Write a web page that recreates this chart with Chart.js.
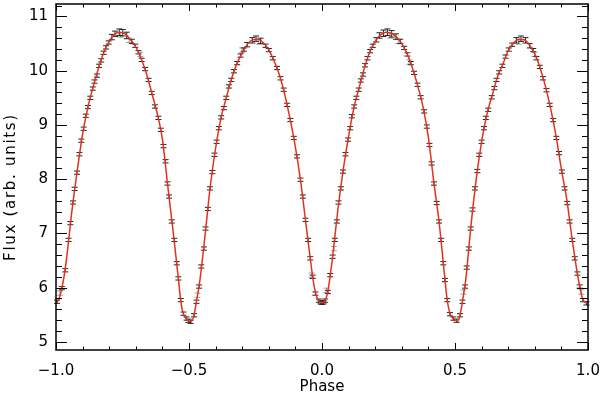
<!DOCTYPE html>
<html>
<head>
  <meta charset="UTF-8">
  <title>Light curve</title>
  <script src="https://cdn.jsdelivr.net/npm/chart.js"></script>
  <style>
    body { margin: 0; background: #fff; }
  </style>
</head>
<body>
  <canvas id="curve" width="600" height="395"></canvas>
  <script>
    // axis ticks
    const xTicks = [-1, -0.5, 0, 0.5, 1];
    const xTickLabels = ['\u22121.0', '\u22120.5', '0.0', '0.5', '1.0'];
    const yTicks = [5, 6, 7, 8, 9, 10, 11];
    const yTickLabels = ['5', '6', '7', '8', '9', '10', '11'];

    // measured points (phase, flux, error)
    const dataPhase = [
      -0.996, -0.978, -0.965, -0.953, -0.946, -0.936, -0.930, -0.921, -0.912, -0.905, -0.896, -0.888,
      -0.880, -0.871, -0.862, -0.855, -0.846, -0.838, -0.830, -0.821, -0.812, -0.802, -0.790, -0.778,
      -0.762, -0.749, -0.734, -0.715, -0.702, -0.690, -0.678, -0.665, -0.652, -0.640, -0.628, -0.615,
      -0.606, -0.596, -0.588, -0.581, -0.575, -0.565, -0.555, -0.546, -0.540, -0.531, -0.521, -0.509,
      -0.502, -0.494, -0.481, -0.472, -0.462, -0.454, -0.444, -0.438, -0.429, -0.421, -0.412, -0.404,
      -0.396, -0.388, -0.379, -0.369, -0.360, -0.350, -0.341, -0.331, -0.319, -0.306, -0.294, -0.281,
      -0.262, -0.248, -0.231, -0.212, -0.200, -0.185, -0.169, -0.156, -0.144, -0.131, -0.119, -0.106,
      -0.094, -0.081, -0.072, -0.062, -0.052, -0.044, -0.035, -0.025, -0.012, -0.006, 0.000, 0.006,
      0.012, 0.022, 0.031, 0.040, 0.048, 0.056, 0.062, 0.071, 0.079, 0.088, 0.098, 0.106,
      0.112, 0.121, 0.129, 0.138, 0.146, 0.154, 0.162, 0.171, 0.181, 0.191, 0.204, 0.216,
      0.231, 0.246, 0.262, 0.278, 0.294, 0.309, 0.321, 0.334, 0.346, 0.359, 0.371, 0.384,
      0.394, 0.404, 0.412, 0.421, 0.431, 0.440, 0.448, 0.456, 0.462, 0.471, 0.481, 0.494,
      0.506, 0.519, 0.528, 0.538, 0.544, 0.552, 0.559, 0.566, 0.575, 0.584, 0.591, 0.600,
      0.609, 0.616, 0.625, 0.638, 0.648, 0.656, 0.666, 0.678, 0.690, 0.702, 0.715, 0.731,
      0.748, 0.765, 0.781, 0.794, 0.806, 0.819, 0.831, 0.844, 0.856, 0.869, 0.881, 0.891,
      0.902, 0.912, 0.922, 0.931, 0.941, 0.950, 0.960, 0.969, 0.981, 0.994
    ];
    const dataFlux = [
      5.74, 5.99, 6.32, 6.88, 7.19, 7.57, 7.82, 8.12, 8.46, 8.71, 8.93, 9.17,
      9.33, 9.50, 9.67, 9.80, 9.91, 10.09, 10.19, 10.33, 10.43, 10.52, 10.62, 10.68,
      10.71, 10.70, 10.65, 10.54, 10.46, 10.34, 10.20, 10.03, 9.83, 9.59, 9.34, 9.13,
      8.91, 8.61, 8.33, 7.92, 7.68, 7.22, 6.88, 6.45, 6.17, 5.77, 5.52, 5.43,
      5.39, 5.37, 5.49, 5.74, 6.02, 6.39, 6.72, 7.09, 7.45, 7.83, 8.13, 8.45,
      8.69, 8.94, 9.14, 9.31, 9.50, 9.71, 9.83, 9.99, 10.14, 10.28, 10.39, 10.48,
      10.56, 10.59, 10.55, 10.46, 10.38, 10.23, 10.05, 9.86, 9.65, 9.37, 9.09, 8.76,
      8.42, 7.99, 7.68, 7.25, 6.88, 6.54, 6.20, 5.89, 5.76, 5.73, 5.72, 5.73,
      5.76, 5.92, 6.23, 6.57, 6.88, 7.22, 7.57, 7.83, 8.14, 8.46, 8.73, 8.94,
      9.16, 9.34, 9.50, 9.65, 9.82, 9.93, 10.10, 10.23, 10.36, 10.46, 10.57, 10.65,
      10.69, 10.71, 10.68, 10.63, 10.54, 10.42, 10.30, 10.14, 9.96, 9.74, 9.51, 9.25,
      8.97, 8.63, 8.29, 7.92, 7.56, 7.22, 6.88, 6.45, 6.14, 5.77, 5.51, 5.43,
      5.39, 5.49, 5.74, 6.02, 6.37, 6.72, 7.09, 7.44, 7.83, 8.15, 8.45, 8.69,
      8.94, 9.13, 9.28, 9.51, 9.68, 9.83, 9.97, 10.09, 10.26, 10.39, 10.48, 10.56,
      10.59, 10.56, 10.46, 10.38, 10.23, 10.07, 9.86, 9.64, 9.37, 9.09, 8.76, 8.48,
      8.14, 7.83, 7.56, 7.22, 6.88, 6.54, 6.26, 6.02, 5.77, 5.71
    ];
    const dataErr = [
      0.03, 0.03, 0.03, 0.03, 0.03, 0.03, 0.03, 0.03, 0.03, 0.03, 0.03, 0.03,
      0.03, 0.03, 0.03, 0.03, 0.03, 0.03, 0.03, 0.03, 0.03, 0.03, 0.05, 0.05,
      0.06, 0.06, 0.06, 0.04, 0.03, 0.03, 0.03, 0.03, 0.03, 0.03, 0.03, 0.03,
      0.03, 0.03, 0.03, 0.03, 0.03, 0.03, 0.03, 0.03, 0.03, 0.03, 0.03, 0.03,
      0.03, 0.03, 0.03, 0.03, 0.03, 0.03, 0.03, 0.03, 0.03, 0.03, 0.03, 0.03,
      0.03, 0.03, 0.03, 0.03, 0.03, 0.03, 0.03, 0.03, 0.03, 0.03, 0.03, 0.04,
      0.05, 0.05, 0.05, 0.03, 0.03, 0.03, 0.03, 0.03, 0.03, 0.03, 0.03, 0.03,
      0.03, 0.03, 0.03, 0.03, 0.03, 0.03, 0.03, 0.03, 0.03, 0.03, 0.03, 0.03,
      0.03, 0.03, 0.03, 0.03, 0.03, 0.03, 0.03, 0.03, 0.03, 0.03, 0.03, 0.03,
      0.03, 0.03, 0.03, 0.03, 0.03, 0.03, 0.03, 0.03, 0.03, 0.03, 0.04, 0.05,
      0.06, 0.06, 0.06, 0.05, 0.04, 0.03, 0.03, 0.03, 0.03, 0.03, 0.03, 0.03,
      0.03, 0.03, 0.03, 0.03, 0.03, 0.03, 0.03, 0.03, 0.03, 0.03, 0.03, 0.03,
      0.03, 0.03, 0.03, 0.03, 0.03, 0.03, 0.03, 0.03, 0.03, 0.03, 0.03, 0.03,
      0.03, 0.03, 0.03, 0.03, 0.03, 0.03, 0.03, 0.03, 0.03, 0.03, 0.03, 0.05,
      0.05, 0.05, 0.04, 0.03, 0.03, 0.03, 0.03, 0.03, 0.03, 0.03, 0.03, 0.03,
      0.03, 0.03, 0.03, 0.03, 0.03, 0.03, 0.03, 0.03, 0.03, 0.03
    ];

    // lighter (grey) points
    const grayPhase = [-0.985, -0.758, -0.725, -0.683, -0.468, -0.300, -0.238, -0.039, 0.017,
                       0.045, 0.256, 0.287, 0.328, 0.532, 0.740, 0.799, 0.975];
    const grayFlux = [5.90, 10.66, 10.56, 10.30, 5.86, 10.38, 10.53, 6.23, 5.95,
                      6.72, 10.64, 10.54, 10.16, 5.92, 10.53, 10.30, 5.92];
    const grayErr = [0.04, 0.04, 0.04, 0.04, 0.04, 0.04, 0.04, 0.04, 0.04,
                     0.04, 0.04, 0.04, 0.04, 0.04, 0.04, 0.04, 0.04];

    // model curve
    const modelPhase = [
      -1.00, -0.99, -0.98, -0.97, -0.96, -0.94, -0.92, -0.90, -0.88, -0.86, -0.84, -0.82,
      -0.80, -0.78, -0.76, -0.74, -0.72, -0.70, -0.68, -0.66, -0.64, -0.62, -0.60, -0.58,
      -0.56, -0.54, -0.53, -0.52, -0.51, -0.50, -0.49, -0.48, -0.47, -0.46, -0.44, -0.42,
      -0.40, -0.38, -0.36, -0.34, -0.32, -0.30, -0.28, -0.26, -0.24, -0.22, -0.20, -0.18,
      -0.16, -0.14, -0.12, -0.10, -0.08, -0.06, -0.04, -0.03, -0.02, -0.01,
      0.00, 0.01, 0.02, 0.03, 0.04, 0.06, 0.08, 0.10, 0.12, 0.14, 0.16, 0.18,
      0.20, 0.22, 0.24, 0.26, 0.28, 0.30, 0.32, 0.34, 0.36, 0.38, 0.40, 0.42,
      0.44, 0.46, 0.47, 0.48, 0.49, 0.50, 0.51, 0.52, 0.53, 0.54, 0.56, 0.58,
      0.60, 0.62, 0.64, 0.66, 0.68, 0.70, 0.72, 0.74, 0.76, 0.78, 0.80, 0.82,
      0.84, 0.86, 0.88, 0.90, 0.92, 0.94, 0.96, 0.97, 0.98, 0.99, 1.00
    ];
    const modelFlux = [
      5.72, 5.78, 5.95, 6.20, 6.55, 7.42, 8.16, 8.83, 9.33, 9.71, 10.05, 10.34,
      10.54, 10.67, 10.71, 10.68, 10.57, 10.44, 10.22, 9.95, 9.59, 9.22, 8.74, 7.88,
      7.05, 6.17, 5.72, 5.50, 5.43, 5.39, 5.38, 5.52, 5.80, 6.10, 6.95, 7.87,
      8.57, 9.12, 9.50, 9.85, 10.13, 10.33, 10.49, 10.57, 10.58, 10.51, 10.38, 10.18,
      9.92, 9.56, 9.11, 8.59, 7.95, 7.16, 6.38, 6.04, 5.83, 5.75,
      5.72, 5.75, 5.88, 6.19, 6.57, 7.45, 8.18, 8.79, 9.32, 9.69, 10.06, 10.35,
      10.54, 10.66, 10.71, 10.69, 10.62, 10.50, 10.31, 10.05, 9.72, 9.33, 8.77, 7.96,
      7.22, 6.26, 5.80, 5.54, 5.45, 5.41, 5.38, 5.52, 5.80, 6.13, 7.14, 8.01,
      8.69, 9.20, 9.55, 9.89, 10.12, 10.37, 10.51, 10.58, 10.57, 10.47, 10.31, 10.05,
      9.71, 9.29, 8.79, 8.18, 7.63, 6.91, 6.26, 6.00, 5.79, 5.73, 5.72
    ];

    Chart.defaults.font.family = '"DejaVu Sans", sans-serif';
    Chart.defaults.font.size = 15;
    Chart.defaults.color = '#000';

    function points(xs, ys) {
      return xs.map((x, i) => ({ x: x, y: ys[i] }));
    }

    // error bars with caps, drawn under the model line
    const errorBars = {
      id: 'errorBars',
      beforeDatasetsDraw(chart) {
        const { ctx, scales: { x, y } } = chart;
        function drawSet(xs, ys, errs, color) {
          ctx.strokeStyle = color;
          ctx.beginPath();
          for (let i = 0; i < xs.length; i++) {
            const px = x.getPixelForValue(xs[i]);
            const top = y.getPixelForValue(ys[i] + errs[i]);
            const bot = y.getPixelForValue(ys[i] - errs[i]);
            ctx.moveTo(px, top); ctx.lineTo(px, bot);
            ctx.moveTo(px - 3, top); ctx.lineTo(px + 3, top);
            ctx.moveTo(px - 3, bot); ctx.lineTo(px + 3, bot);
          }
          ctx.stroke();
        }
        ctx.save();
        ctx.lineWidth = 1;
        drawSet(grayPhase, grayFlux, grayErr, '#a0a0a0');
        drawSet(dataPhase, dataFlux, dataErr, '#262626');
        ctx.restore();
      }
    };

    // box with inward ticks on all four sides
    const frame = {
      id: 'frame',
      afterDraw(chart) {
        const { ctx, chartArea: a, scales: { x, y } } = chart;
        ctx.save();
        ctx.strokeStyle = '#000';
        ctx.lineWidth = 1;
        ctx.beginPath();
        for (let i = -10; i <= 10; i++) {
          const px = Math.round(x.getPixelForValue(i / 10)) + 0.5;
          const len = i % 5 === 0 ? 7 : 3.5;
          ctx.moveTo(px, a.bottom); ctx.lineTo(px, a.bottom - len);
          ctx.moveTo(px, a.top); ctx.lineTo(px, a.top + len);
        }
        for (let i = 25; i <= 56; i++) {
          const py = Math.round(y.getPixelForValue(i / 5)) + 0.5;
          const len = i % 5 === 0 ? 11 : 6;
          ctx.moveTo(a.left, py); ctx.lineTo(a.left + len, py);
          ctx.moveTo(a.right, py); ctx.lineTo(a.right - len, py);
        }
        ctx.stroke();
        ctx.lineWidth = 1.5;
        ctx.strokeRect(a.left, a.top, a.right - a.left, a.bottom - a.top);
        ctx.restore();
      }
    };

    // wider letter spacing for the y title, sitting a little lower
    const spacedTitle = {
      id: 'spacedTitle',
      beforeDraw(chart) {
        const s = chart.scales.y;
        if (s._spaced) return;
        const orig = s.drawTitle;
        s.drawTitle = function () {
          this.ctx.save();
          this.ctx.translate(0, 10);
          this.ctx.letterSpacing = '1.7px';
          orig.call(this);
          this.ctx.restore();
        };
        s._spaced = true;
      }
    };

    new Chart(document.getElementById('curve'), {
      type: 'scatter',
      data: {
        datasets: [
          {
            label: 'model',
            data: points(modelPhase, modelFlux),
            showLine: true,
            borderColor: '#e2321e',
            borderWidth: 1.5,
            pointRadius: 0,
            cubicInterpolationMode: 'monotone'
          },
          {
            label: 'data',
            data: points(dataPhase, dataFlux),
            pointRadius: 0
          }
        ]
      },
      options: {
        responsive: false,
        animation: false,
        devicePixelRatio: 1,
        layout: { padding: { top: 4, right: 12, left: 0, bottom: 0 } },
        plugins: { legend: { display: false }, tooltip: { enabled: false } },
        scales: {
          x: {
            type: 'linear',
            min: -1,
            max: 1,
            grid: { display: false, drawTicks: false },
            border: { display: false },
            afterBuildTicks: s => { s.ticks = xTicks.map(v => ({ value: v })); },
            afterFit: s => { s.height = 45; s.paddingLeft = 0; s.paddingRight = 0; },
            ticks: {
              padding: 12,
              maxRotation: 0,
              callback: (v, i) => xTickLabels[i]
            },
            title: { display: true, text: 'Phase', font: { lineHeight: 1 }, padding: { top: 0, bottom: 0 } }
          },
          y: {
            type: 'linear',
            min: 4.85,
            max: 11.23,
            grid: { display: false, drawTicks: false },
            border: { display: false },
            afterBuildTicks: s => { s.ticks = yTicks.map(v => ({ value: v })); },
            afterFit: s => { s.width = 56; s.paddingTop = 0; s.paddingBottom = 0; },
            ticks: {
              padding: 8,
              callback: (v, i) => yTickLabels[i]
            },
            title: { display: true, text: 'Flux (arb. units)', padding: { top: 2, bottom: 0 } }
          }
        }
      },
      plugins: [errorBars, frame, spacedTitle]
    });
  </script>
</body>
</html>
